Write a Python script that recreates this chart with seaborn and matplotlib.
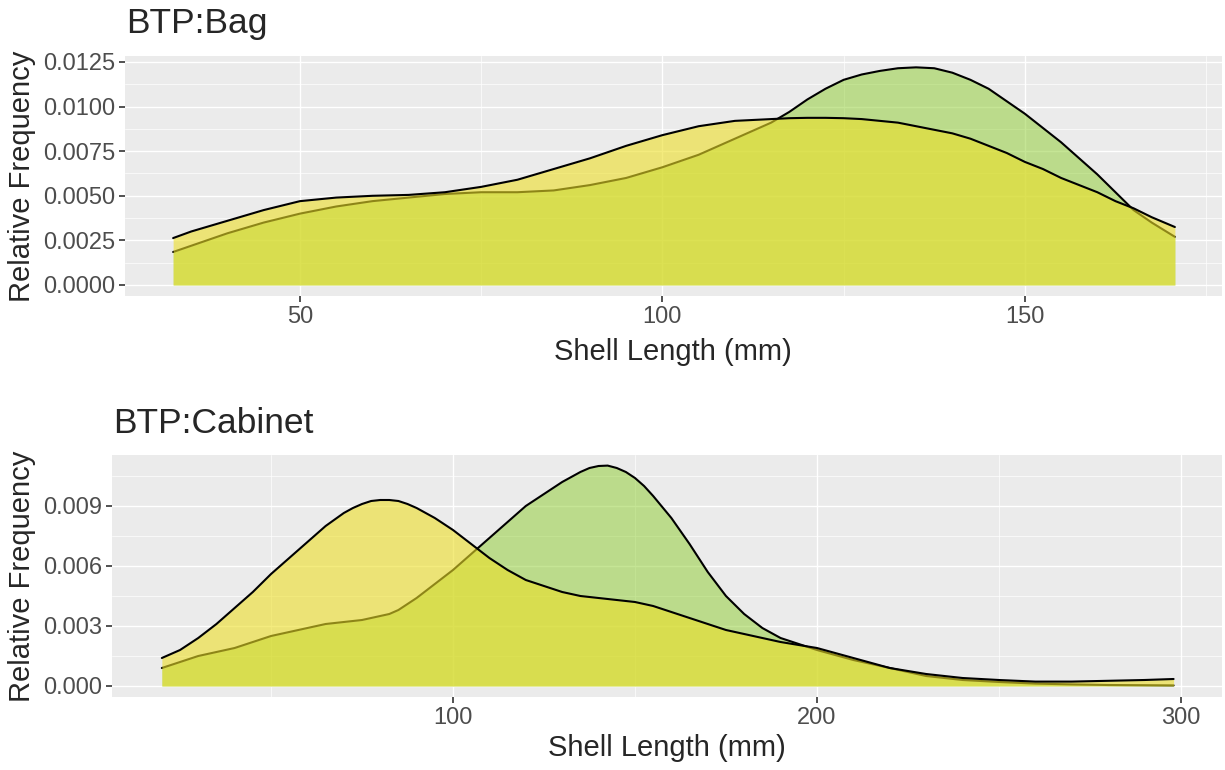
import matplotlib
matplotlib.use("Agg")
import matplotlib.pyplot as plt
from matplotlib.ticker import MultipleLocator, FormatStrFormatter
import seaborn as sns
import pandas as pd

# density values
bag_x = [32.5, 35, 40, 45, 50, 55, 60, 65, 70, 75, 80, 85, 90, 95, 100, 105, 110,
         115, 117.5, 120, 122.5, 125, 127.5, 130, 132.5, 135, 137.5, 140, 142.5, 145,
         147.5, 150, 152.5, 155, 157.5, 160, 162.5, 165, 167.5, 170.7]
bag_green = [0.00185, 0.0022, 0.0029, 0.0035, 0.0040, 0.0044, 0.0047, 0.0049, 0.0051,
             0.0052, 0.0052, 0.0053, 0.0056, 0.0060, 0.0066, 0.0073, 0.0082,
             0.0091, 0.0097, 0.0104, 0.0110, 0.0115, 0.0118, 0.0120, 0.01215, 0.0122,
             0.01215, 0.0119, 0.0115, 0.0110, 0.0103, 0.0096, 0.0088, 0.0080, 0.0071,
             0.0062, 0.0052, 0.0042, 0.0035, 0.0027]
bag_yellow = [0.00263, 0.0030, 0.0036, 0.0042, 0.0047, 0.0049, 0.0050, 0.00505, 0.0052,
              0.0055, 0.0059, 0.0065, 0.0071, 0.0078, 0.0084, 0.0089, 0.0092,
              0.0093, 0.00935, 0.00937, 0.00937, 0.00935, 0.0093, 0.0092, 0.0091,
              0.0089, 0.0087, 0.0085, 0.0082, 0.0078, 0.0074, 0.0069, 0.0065, 0.0060,
              0.0056, 0.0052, 0.0047, 0.0043, 0.0038, 0.00325]

cab_x = [20, 25, 30, 35, 40, 45, 50, 55, 60, 65, 70, 72.5, 75, 77.5, 80, 82.5, 85, 87.5,
         90, 95, 100, 105, 110, 115, 120, 125, 130, 132.5, 135, 137.5, 140, 142.5, 145,
         147.5, 150, 152.5, 155, 160, 165, 170, 175, 180, 185, 190, 195, 200, 210, 220,
         230, 240, 250, 260, 270, 280, 290, 298]
cab_green = [0.0009, 0.0012, 0.0015, 0.0017, 0.0019, 0.0022, 0.0025, 0.0027, 0.0029,
             0.0031, 0.0032, 0.00325, 0.0033, 0.0034, 0.0035, 0.0036, 0.0038, 0.0041,
             0.0044, 0.0051, 0.0058, 0.0066, 0.0074, 0.0082, 0.0090, 0.0096, 0.0102,
             0.01045, 0.0107, 0.0109, 0.0110, 0.01102, 0.0109, 0.0107, 0.0104, 0.0100,
             0.0095, 0.0084, 0.0071, 0.0057, 0.0045, 0.0036, 0.0029, 0.0024, 0.0021,
             0.0018, 0.0013, 0.0009, 0.0005, 0.0003, 0.0002, 0.00012, 0.00008, 0.00005,
             0.00004, 0.00003]
cab_yellow = [0.0014, 0.0018, 0.0024, 0.0031, 0.0039, 0.0047, 0.0056, 0.0064, 0.0072,
              0.0080, 0.00865, 0.0089, 0.0091, 0.00925, 0.0093, 0.0093, 0.00925, 0.0091,
              0.0089, 0.0084, 0.0078, 0.0071, 0.0064, 0.0058, 0.0053, 0.0050, 0.0047,
              0.0046, 0.0045, 0.00445, 0.0044, 0.00435, 0.0043, 0.00425, 0.0042, 0.0041,
              0.0040, 0.0037, 0.0034, 0.0031, 0.0028, 0.0026, 0.0024, 0.0022, 0.00205,
              0.0019, 0.0014, 0.0009, 0.0006, 0.0004, 0.0003, 0.00022, 0.00022, 0.00026,
              0.0003, 0.00035]

green = "#8DCD2D"
yellow = "#EDDF28"

sns.set_theme(style="darkgrid")
plt.rcParams["font.family"] = ["Liberation Sans", "DejaVu Sans"]

fig = plt.figure(figsize=(12.25, 7.7), dpi=100)
ax1 = fig.add_axes([125/1225, 1 - 296/770, 1097/1225, 240/770])
ax2 = fig.add_axes([112/1225, 1 - 697/770, 1110/1225, 242/770])


def density_panel(ax, x, g, y):
    df = pd.DataFrame({"x": x, "g": g, "y": y})
    ax.fill_between(df.x, 0, df.g, color=green, alpha=0.5, lw=0, zorder=2)
    sns.lineplot(data=df, x="x", y="g", color="black", lw=1.5, ax=ax, zorder=3)
    ax.fill_between(df.x, 0, df.y, color=yellow, alpha=0.6, lw=0, zorder=4)
    sns.lineplot(data=df, x="x", y="y", color="black", lw=1.5, ax=ax, zorder=5)


density_panel(ax1, bag_x, bag_green, bag_yellow)
density_panel(ax2, cab_x, cab_green, cab_yellow)

ax1.set_xlim(25.86, 177.2)
ax1.set_ylim(-0.000617, 0.012836)
ax1.xaxis.set_major_locator(MultipleLocator(50))
ax1.xaxis.set_minor_locator(MultipleLocator(25))
ax1.yaxis.set_major_locator(MultipleLocator(0.0025))
ax1.yaxis.set_minor_locator(MultipleLocator(0.00125))
ax1.yaxis.set_major_formatter(FormatStrFormatter("%.4f"))

ax2.set_xlim(6.3, 311.3)
ax2.set_ylim(-0.00055, 0.01155)
ax2.xaxis.set_major_locator(MultipleLocator(100))
ax2.xaxis.set_minor_locator(MultipleLocator(50))
ax2.yaxis.set_major_locator(MultipleLocator(0.003))
ax2.yaxis.set_minor_locator(MultipleLocator(0.0015))
ax2.yaxis.set_major_formatter(FormatStrFormatter("%.3f"))

for ax in (ax1, ax2):
    ax.set_facecolor("#EBEBEB")
    ax.grid(which="major", color="white", lw=1.0)
    ax.grid(which="minor", color="white", lw=0.5)
    ax.set_axisbelow(True)
    for s in ax.spines.values():
        s.set_visible(False)
    ax.tick_params(which="major", length=4, width=1.2, color="#333333",
                   labelsize=17, labelcolor="#4D4D4D", pad=3,
                   bottom=True, left=True)
    ax.tick_params(which="minor", length=0)
    ax.set_xlabel("")
    ax.set_ylabel("")

fig.text(126/1225, 1 - 33/770, "BTP:Bag", fontsize=25.5, va="baseline", ha="left")
fig.text(113/1225, 1 - 433/770, "BTP:Cabinet", fontsize=25.5, va="baseline", ha="left")
fig.text(22/1225, 1 - 176/770, "Relative Frequency", fontsize=21, rotation=90,
         va="center", ha="center")
fig.text(22/1225, 1 - 576/770, "Relative Frequency", fontsize=21, rotation=90,
         va="center", ha="center")
fig.text(673/1225, 1 - 352/770, "Shell Length (mm)", fontsize=21, va="center", ha="center")
fig.text(667/1225, 1 - 748/770, "Shell Length (mm)", fontsize=21, va="center", ha="center")

fig.savefig("out.png", dpi=100)
